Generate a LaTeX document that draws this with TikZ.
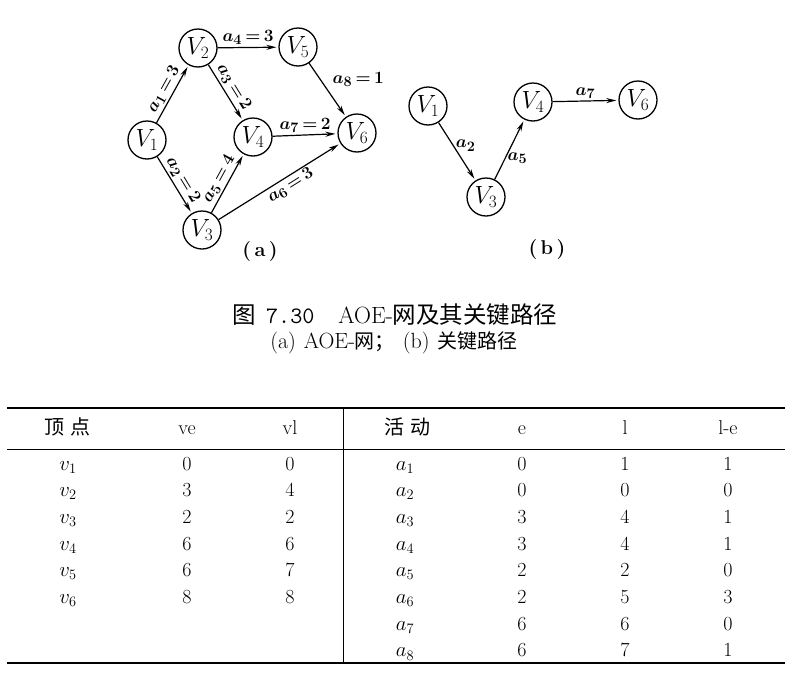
\documentclass[tikz,border=0pt]{standalone}
\usepackage{fontspec}
\usepackage{amsmath}
\newfontfamily\cjk{Noto Sans CJK SC}
\usetikzlibrary{arrows.meta}
\tikzset{
  vertex/.style={
    circle, draw, line width=1.3pt, minimum size=38pt, inner sep=0pt,
    font=\fontsize{23}{23}\selectfont,
  },
  actarrow/.style={
    -{Stealth[length=10pt, width=5pt]}, line width=1.2pt, shorten >=2pt,
  },
  weight/.style={
    font=\fontsize{19}{19}\selectfont\bfseries\boldmath, inner sep=2pt,
  },
  sublabel/.style={
    font=\fontsize{20}{20}\selectfont\bfseries,
  },
  cell/.style={
    font=\fontsize{20}{20}\selectfont, text height=14pt, text depth=4pt, inner sep=0pt,
  },
}

\begin{document}
\begin{tikzpicture}[x=1pt, y=-1pt]
  \useasboundingbox (0,0) rectangle (793,675);

  % === (a) AOE network ===
  \node[vertex] (a1) at (147,140) {$V_1$};
  \node[vertex] (a2) at (198,48) {$V_2$};
  \node[vertex] (a3) at (202,230) {$V_3$};
  \node[vertex] (a4) at (253,137) {$V_4$};
  \node[vertex] (a5) at (298,47) {$V_5$};
  \node[vertex] (a6) at (357,133) {$V_6$};

  \draw[actarrow] (a1) -- node[weight, sloped, above] {$a_1\,{=}\,3$} (a2);
  \draw[actarrow] (a1) -- node[weight, sloped, above] {$a_2\,{=}\,2$} (a3);
  \draw[actarrow] (a2) -- node[weight, sloped, above] {$a_3\,{=}\,2$} (a4);
  \draw[actarrow] (a2) -- node[weight, above] {$a_4\,{=}\,3$} (a5);
  \draw[actarrow] (a3) -- node[weight, sloped, above] {$a_5\,{=}\,4$} (a4);
  \draw[actarrow] (a3) -- node[weight, sloped, below, pos=0.55] {$a_6\,{=}\,3$} (a6);
  \draw[actarrow] (a4) -- node[weight, above] {$a_7\,{=}\,2$} (a6);
  \draw[actarrow] (a5) -- node[weight, right, pos=0.3, xshift=10pt] {$a_8\,{=}\,1$} (a6);

  \node[sublabel] (capa) at (260,252) {(\,a\,)};

  % === (b) critical path ===
  \node[vertex] (b1) at (428,106) {$V_1$};
  \node[vertex] (b3) at (486,197) {$V_3$};
  \node[vertex] (b4) at (533,102) {$V_4$};
  \node[vertex] (b6) at (638,100) {$V_6$};

  \draw[actarrow] (b1) -- node[weight, right, pos=0.4] {$a_2$} (b3);
  \draw[actarrow] (b3) -- node[weight, right, pos=0.35] {$a_5$} (b4);
  \draw[actarrow] (b4) -- node[weight, above] {$a_7$} (b6);

  \node[sublabel] (capb) at (547,250) {(\,b\,)};

  % === Caption ===
  \node[font=\fontsize{23.5}{23.5}\selectfont] (cap) at (395,315) {{\cjk 图}\hspace{10pt}\texttt{7.30}\hspace{24pt}AOE-{\cjk 网及其关键路径}};
  \node[font=\fontsize{22}{22}\selectfont] (subcap) at (394,343) {(a)\hspace{8pt}AOE-{\cjk\fontsize{20}{20}\selectfont 网；}\hspace{8pt}(b)\hspace{8pt}{\cjk\fontsize{20}{20}\selectfont 关键路径}};

  % === Table: rules ===
  \draw[line width=2pt] (7,408) -- (785,408);
  \draw[line width=0.9pt] (7,449) -- (785,449);
  \draw[line width=2.5pt] (7,663) -- (785,663);
  \draw[line width=1pt] (343,408) -- (343,663);

  % === Table: header ===
  \node[cell] (hvert) at (68,429) {{\cjk 顶\hspace{6pt}点}};
  \node[cell] (hve) at (187,429) {ve};
  \node[cell] (hvl) at (290,429) {vl};
  \node[cell] (hact) at (407,429) {{\cjk 活\hspace{6pt}动}};
  \node[cell] (he) at (522,429) {e};
  \node[cell] (hl) at (625,429) {l};
  \node[cell] (hle) at (728,429) {l-e};

  % === Table: vertices ===
  \foreach \tVe/\tVl [count=\i] in {0/0, 3/4, 2/2, 6/6, 6/7, 8/8} {
    \node[cell] (v\i) at (68, {465+26.7*(\i-1)}) {$v_{\i}$};
    \node[cell] (ve\i) at (187, {465+26.7*(\i-1)}) {\tVe};
    \node[cell] (vl\i) at (290, {465+26.7*(\i-1)}) {\tVl};
  }

  % === Table: activities ===
  \foreach \tE/\tL/\tS [count=\i] in {0/1/1, 0/0/0, 3/4/1, 3/4/1, 2/2/0, 2/5/3, 6/6/0, 6/7/1} {
    \node[cell] (act\i) at (405, {465+26.7*(\i-1)}) {$a_{\i}$};
    \node[cell] (e\i) at (522, {465+26.7*(\i-1)}) {\tE};
    \node[cell] (l\i) at (625, {465+26.7*(\i-1)}) {\tL};
    \node[cell] (s\i) at (728, {465+26.7*(\i-1)}) {\tS};
  }

\end{tikzpicture}
\end{document}
